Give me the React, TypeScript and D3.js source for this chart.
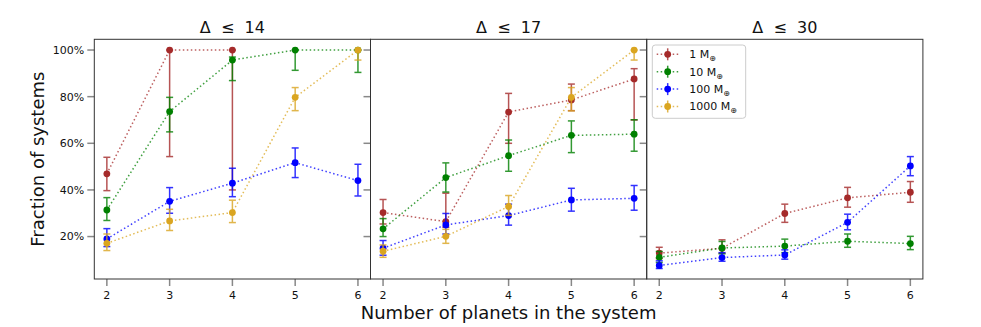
import React from 'react';
import * as d3 from 'd3';

// x values shared by every panel
const planets = [2, 3, 4, 5, 6];
const panelTitles = ['Δ  ≤  14', 'Δ  ≤  17', 'Δ  ≤  30'];
const massLabels = ['1', '10', '100', '1000'];
const colors = ['#a52a2a', '#008000', '#0000ff', '#daa520'];
const yTicks = [0.2, 0.4, 0.6, 0.8, 1.0];

// fraction of systems, rows = 1, 10, 100, 1000 Earth masses
const frac14 = [
  [0.469, 1.0, 1.0, null, null],
  [0.314, 0.736, 0.957, 1.0, 1.0],
  [0.19, 0.351, 0.429, 0.517, 0.44],
  [0.171, 0.267, 0.303, 0.797, 1.0],
];
const lo14 = [
  [0.397, 0.543, 0.4, null, null],
  [0.269, 0.649, 0.869, 0.913, 0.904],
  [0.157, 0.3, 0.371, 0.453, 0.374],
  [0.14, 0.226, 0.26, 0.74, 0.957],
];
const hi14 = [
  [0.54, 1.0, 1.0, null, null],
  [0.367, 0.797, 0.97, 1.0, 1.0],
  [0.234, 0.41, 0.493, 0.58, 0.51],
  [0.211, 0.317, 0.356, 0.839, 1.0],
];

const frac17 = [
  [0.303, 0.264, 0.734, 0.786, 0.876],
  [0.233, 0.453, 0.547, 0.634, 0.639],
  [0.15, 0.25, 0.29, 0.357, 0.364],
  [0.137, 0.201, 0.329, 0.797, 1.0],
];
const lo17 = [
  [0.254, 0.24, 0.6, 0.74, 0.7],
  [0.2, 0.391, 0.48, 0.56, 0.566],
  [0.12, 0.211, 0.249, 0.309, 0.313],
  [0.111, 0.171, 0.291, 0.739, 0.957],
];
const hi17 = [
  [0.359, 0.386, 0.814, 0.854, 0.92],
  [0.277, 0.516, 0.614, 0.696, 0.701],
  [0.183, 0.299, 0.339, 0.407, 0.419],
  [0.164, 0.231, 0.376, 0.839, 1.0],
];

const frac30 = [
  [0.129, 0.15, 0.299, 0.366, 0.39],
  [0.111, 0.151, 0.159, 0.18, 0.17],
  [0.076, 0.11, 0.121, 0.261, 0.503],
  [null, null, null, null, null],
];
const lo30 = [
  [0.106, 0.129, 0.261, 0.326, 0.347],
  [0.089, 0.126, 0.131, 0.154, 0.144],
  [0.063, 0.094, 0.103, 0.229, 0.461],
  [null, null, null, null, null],
];
const hi30 = [
  [0.154, 0.186, 0.339, 0.411, 0.436],
  [0.136, 0.179, 0.189, 0.211, 0.201],
  [0.096, 0.131, 0.143, 0.296, 0.543],
  [null, null, null, null, null],
];

const panels = [
  { title: panelTitles[0], frac: frac14, lo: lo14, hi: hi14 },
  { title: panelTitles[1], frac: frac17, lo: lo17, hi: hi17 },
  { title: panelTitles[2], frac: frac30, lo: lo30, hi: hi30 },
];

const W = 981, H = 327;
const left = 94.3, panelW = 276.2, top = 39.3, bottom = 279;
const font = 'DejaVu Sans, sans-serif';

const y = d3.scaleLinear().domain([0.018, 1.046]).range([bottom, top]);

function Panel({ idx, p }: any) {
  const x0 = left + idx * panelW;
  const x = d3.scaleLinear().domain([1.8, 6.2]).range([x0, x0 + panelW]);
  const line = d3.line<any>()
    .defined((d: any) => d[1] != null)
    .x((d: any) => x(d[0]))
    .y((d: any) => y(d[1]));
  return (
    <g>
      {/* ticks */}
      {yTicks.map((t) => (
        <line key={'yt' + t} x1={x0 - 7} x2={x0} y1={y(t)} y2={y(t)} stroke="#888" strokeWidth={1.5} />
      ))}
      {idx === 0 && yTicks.map((t) => (
        <text key={'yl' + t} x={x0 - 10} y={y(t)} dy="0.35em" textAnchor="end" fontSize={11} fontFamily={font} fill="#111">
          {d3.format('.0%')(t)}
        </text>
      ))}
      {planets.map((n) => (
        <g key={'xt' + n}>
          <line x1={x(n)} x2={x(n)} y1={bottom} y2={bottom + 7} stroke="#888" strokeWidth={1.5} />
          <text x={x(n)} y={bottom + 20} textAnchor="middle" fontSize={11} fontFamily={font} fill="#111">{n}</text>
        </g>
      ))}
      {/* series */}
      {p.frac.map((vals: any[], s: number) => {
        const pts = planets.map((n, i) => [n, vals[i]]);
        return (
          <g key={'s' + s}>
            <path d={line(pts) || ''} fill="none" stroke={colors[s]} strokeWidth={1.5}
              strokeDasharray="1.5,2.5" opacity={0.75} />
            {planets.map((n, i) => vals[i] == null ? null : (
              <g key={i} stroke={colors[s]} strokeWidth={1.5} opacity={0.8}>
                <line x1={x(n)} x2={x(n)} y1={y(p.lo[s][i])} y2={y(p.hi[s][i])} />
                <line x1={x(n) - 3.5} x2={x(n) + 3.5} y1={y(p.lo[s][i])} y2={y(p.lo[s][i])} />
                <line x1={x(n) - 3.5} x2={x(n) + 3.5} y1={y(p.hi[s][i])} y2={y(p.hi[s][i])} />
              </g>
            ))}
            {planets.map((n, i) => vals[i] == null ? null : (
              <circle key={'c' + i} cx={x(n)} cy={y(vals[i])} r={3.4} fill={colors[s]} />
            ))}
          </g>
        );
      })}
      <rect x={x0} y={top} width={panelW} height={bottom - top} fill="none" stroke="#333" strokeWidth={1} />
      <text x={x0 + panelW / 2} y={33} textAnchor="middle" fontSize={16} fontFamily={font} fill="#111"
        style={{ whiteSpace: 'pre' }}>{p.title}</text>
    </g>
  );
}

function Legend() {
  const lx = 652.3, ly = 45;
  return (
    <g>
      <rect x={lx} y={ly} width={93.4} height={73.3} rx={3} fill="#fff" fillOpacity={0.8} stroke="#ccc" />
      {massLabels.map((m, i) => {
        const cy = 54.3 + i * 17.4;
        return (
          <g key={m}>
            <line x1={656.7} x2={678.3} y1={cy} y2={cy} stroke={colors[i]} strokeWidth={1.5}
              strokeDasharray="1.5,2.5" opacity={0.75} />
            <line x1={667.7} x2={667.7} y1={cy - 6} y2={cy + 6} stroke={colors[i]} strokeWidth={1.5} opacity={0.8} />
            <circle cx={667.7} cy={cy} r={3.4} fill={colors[i]} />
            <text x={689.3} y={cy} dy="0.35em" fontSize={11} fontFamily={font} fill="#111">
              {m} M<tspan fontSize={8} dy={3}>⊕</tspan>
            </text>
          </g>
        );
      })}
    </g>
  );
}

export default function App() {
  return (
    <svg width={W} height={H} style={{ position: 'absolute', left: 0, top: 0, background: '#fff' }}>
      {panels.map((p, i) => <Panel key={i} idx={i} p={p} />)}
      <Legend />
      <text transform={`translate(44,${(top + bottom) / 2}) rotate(-90)`} textAnchor="middle"
        fontSize={18} fontFamily={font} fill="#111">Fraction of systems</text>
      <text x={left + 1.5 * panelW} y={319} textAnchor="middle" fontSize={18} fontFamily={font} fill="#111">
        Number of planets in the system
      </text>
    </svg>
  );
}
